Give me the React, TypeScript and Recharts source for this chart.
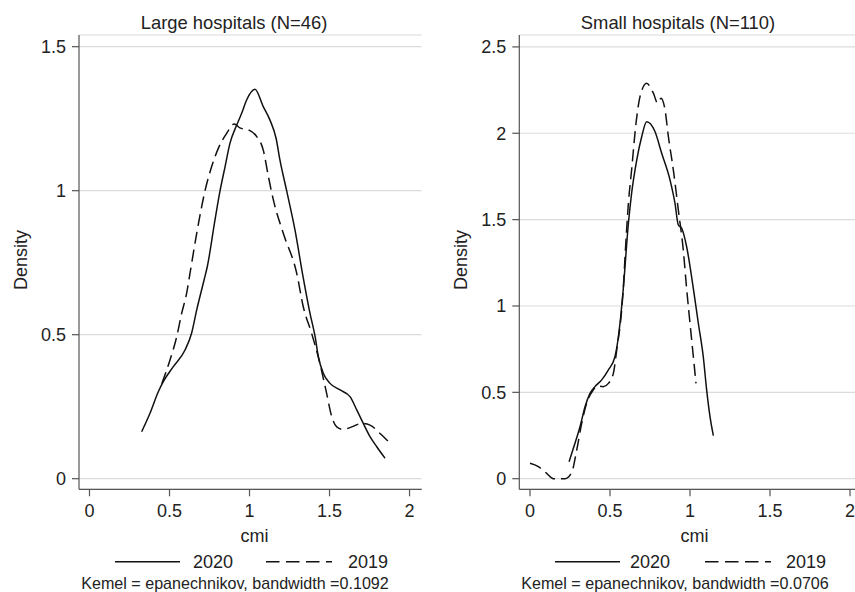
import React from "react";
import { LineChart, Line, XAxis, YAxis, CartesianGrid } from "recharts";

// ---- data ----
const xTicks = [0, 0.5, 1, 1.5, 2];
const largeYTicks = [0, 0.5, 1, 1.5];
const smallYTicks = [0, 0.5, 1, 1.5, 2, 2.5];

const large2020X = [0.326, 0.378, 0.43, 0.461, 0.524, 0.597, 0.638, 0.67, 0.716, 0.736, 0.784, 0.816, 0.847, 0.878, 0.92, 0.951, 0.982, 1.034, 1.086, 1.128, 1.166, 1.19, 1.232, 1.284, 1.335, 1.378, 1.41, 1.43, 1.461, 1.503, 1.566, 1.628, 1.67, 1.711, 1.753, 1.795, 1.847];
const large2020Y = [0.163, 0.227, 0.302, 0.337, 0.389, 0.447, 0.505, 0.586, 0.69, 0.736, 0.898, 1.0, 1.083, 1.165, 1.228, 1.269, 1.315, 1.352, 1.292, 1.245, 1.182, 1.107, 1.0, 0.864, 0.7, 0.574, 0.493, 0.424, 0.366, 0.331, 0.308, 0.285, 0.239, 0.192, 0.146, 0.111, 0.071];

const large2019X = [0.452, 0.503, 0.545, 0.576, 0.607, 0.628, 0.67, 0.722, 0.763, 0.805, 0.857, 0.905, 0.94, 0.99, 1.045, 1.086, 1.118, 1.149, 1.211, 1.295, 1.336, 1.388, 1.44, 1.482, 1.514, 1.545, 1.586, 1.639, 1.701, 1.753, 1.816, 1.889];
const large2019Y = [0.33, 0.412, 0.493, 0.574, 0.644, 0.713, 0.852, 1.0, 1.083, 1.147, 1.199, 1.232, 1.218, 1.212, 1.188, 1.141, 1.049, 0.968, 0.852, 0.713, 0.597, 0.505, 0.4, 0.296, 0.215, 0.18, 0.171, 0.18, 0.192, 0.186, 0.157, 0.117];

const small2020X = [0.244, 0.281, 0.3125, 0.344, 0.375, 0.406, 0.448, 0.49, 0.531, 0.5625, 0.583, 0.615, 0.635, 0.667, 0.698, 0.729, 0.781, 0.823, 0.875, 0.906, 0.927, 0.948, 0.979, 1.021, 1.052, 1.083, 1.104, 1.125, 1.146];
const small2020Y = [0.098, 0.205, 0.301, 0.417, 0.494, 0.533, 0.572, 0.63, 0.706, 0.9, 1.1, 1.479, 1.652, 1.845, 1.98, 2.067, 2.01, 1.884, 1.73, 1.595, 1.469, 1.45, 1.343, 1.1, 0.9, 0.706, 0.514, 0.359, 0.249];

const small2019X = [0, 0.052, 0.104, 0.146, 0.219, 0.26, 0.292, 0.323, 0.354, 0.396, 0.417, 0.458, 0.49, 0.521, 0.542, 0.573, 0.583, 0.594, 0.615, 0.635, 0.6625, 0.6875, 0.729, 0.771, 0.798, 0.819, 0.844, 0.865, 0.896, 0.927, 0.958, 0.979, 1.0, 1.021, 1.0375];
const small2019Y = [0.089, 0.07, 0.031, 0.0, 0.0, 0.035, 0.166, 0.32, 0.437, 0.514, 0.537, 0.533, 0.552, 0.61, 0.745, 0.977, 1.1, 1.286, 1.595, 1.787, 2.058, 2.212, 2.289, 2.232, 2.174, 2.203, 2.135, 1.98, 1.787, 1.556, 1.324, 1.1, 0.9, 0.706, 0.552];

const seriesNames = ["2020", "2019"];
const titles = ["Large hospitals (N=46)", "Small hospitals (N=110)"];
const notes = ["Kemel = epanechnikov, bandwidth =0.1092", "Kemel = epanechnikov, bandwidth =0.0706"];
const xLabel = "cmi";
const yLabel = "Density";

const zip = (xs: number[], ys: number[]) => xs.map((x, i) => ({ x, y: ys[i] }));

const FONT = '"Liberation Sans", Arial, Helvetica, sans-serif';
const AXIS = "#555";
const TEXT = "#222";
const GRID = "#dcdcdc";

type PanelProps = {
  left: number;
  width: number;
  yAxisWidth: number;
  marginRight: number;
  xDomain: [number, number];
  yDomain: [number, number];
  yTicks: number[];
  solid: { x: number; y: number }[];
  dashed: { x: number; y: number }[];
};

function Panel(p: PanelProps) {
  const tickStyle = { fontSize: 18, fill: TEXT, fontFamily: FONT };
  return (
    <div style={{ position: "absolute", left: p.left, top: 0 }}>
      <LineChart
        width={p.width}
        height={592}
        margin={{ top: 35, right: p.marginRight, bottom: 0, left: 0 }}
      >
        <CartesianGrid horizontal vertical={false} stroke={GRID} strokeWidth={1.2} />
        <XAxis
          type="number"
          dataKey="x"
          domain={p.xDomain}
          allowDataOverflow
          ticks={xTicks}
          height={102.7}
          tickSize={7}
          tickMargin={8}
          axisLine={{ stroke: AXIS, strokeWidth: 1.2 }}
          tickLine={{ stroke: AXIS, strokeWidth: 1.2 }}
          tick={tickStyle}
          interval={0}
        />
        <YAxis
          type="number"
          dataKey="y"
          domain={p.yDomain}
          allowDataOverflow
          ticks={p.yTicks}
          width={p.yAxisWidth}
          tickSize={7}
          tickMargin={6}
          axisLine={{ stroke: AXIS, strokeWidth: 1.2 }}
          tickLine={{ stroke: AXIS, strokeWidth: 1.2 }}
          tick={tickStyle}
          interval={0}
        />
        <Line
          data={p.solid}
          dataKey="y"
          type="monotone"
          stroke="#111"
          strokeWidth={1.5}
          dot={false}
          activeDot={false}
          isAnimationActive={false}
        />
        <Line
          data={p.dashed}
          dataKey="y"
          type="monotone"
          stroke="#111"
          strokeWidth={1.5}
          strokeDasharray="12 6"
          dot={false}
          activeDot={false}
          isAnimationActive={false}
        />
      </LineChart>
    </div>
  );
}

function Annotations() {
  const t = { fontFamily: FONT, fill: TEXT } as const;
  return (
    <svg
      width={855}
      height={592}
      style={{ position: "absolute", left: 0, top: 0, pointerEvents: "none" }}
    >
      {/* titles */}
      <text x={234} y={29} textAnchor="middle" fontSize={18.4} {...t}>{titles[0]}</text>
      <text x={678} y={29} textAnchor="middle" fontSize={18.4} {...t}>{titles[1]}</text>
      {/* y labels */}
      <text x={27} y={260} textAnchor="middle" fontSize={18} transform="rotate(-90 27 260)" {...t}>{yLabel}</text>
      <text x={467} y={260} textAnchor="middle" fontSize={18} transform="rotate(-90 467 260)" {...t}>{yLabel}</text>
      {/* x labels */}
      <text x={254.5} y={542} textAnchor="middle" fontSize={18} {...t}>{xLabel}</text>
      <text x={694.5} y={542} textAnchor="middle" fontSize={18} {...t}>{xLabel}</text>
      {/* legends */}
      <line x1={115} x2={180} y1={561.7} y2={561.7} stroke="#111" strokeWidth={1.5} />
      <text x={193} y={567.5} fontSize={18} {...t}>{seriesNames[0]}</text>
      <line x1={266} x2={332} y1={561.7} y2={561.7} stroke="#111" strokeWidth={1.5} strokeDasharray="13.5 6.5" />
      <text x={348} y={567.5} fontSize={18} {...t}>{seriesNames[1]}</text>

      <line x1={555} x2={620} y1={561.7} y2={561.7} stroke="#111" strokeWidth={1.5} />
      <text x={630} y={567.5} fontSize={18} {...t}>{seriesNames[0]}</text>
      <line x1={705} x2={771} y1={561.7} y2={561.7} stroke="#111" strokeWidth={1.5} strokeDasharray="13.5 6.5" />
      <text x={786} y={567.5} fontSize={18} {...t}>{seriesNames[1]}</text>
      {/* notes */}
      <text x={235} y={589} textAnchor="middle" fontSize={16.1} {...t}>{notes[0]}</text>
      <text x={675} y={589} textAnchor="middle" fontSize={16.1} {...t}>{notes[1]}</text>
    </svg>
  );
}

export default function App() {
  return (
    <div
      style={{
        position: "absolute",
        left: 0,
        top: 0,
        width: 855,
        height: 592,
        overflow: "hidden",
        background: "#fff",
      }}
    >
      <Panel
        left={0}
        width={430}
        yAxisWidth={79}
        marginRight={8.3}
        xDomain={[-0.0656, 2.076]}
        yDomain={[-0.0368, 1.5406]}
        yTicks={largeYTicks}
        solid={zip(large2020X, large2020Y)}
        dashed={zip(large2019X, large2019Y)}
      />
      <Panel
        left={430}
        width={440}
        yAxisWidth={89.3}
        marginRight={0}
        xDomain={[-0.0669, 2.125]}
        yDomain={[-0.0614, 2.569]}
        yTicks={smallYTicks}
        solid={zip(small2020X, small2020Y)}
        dashed={zip(small2019X, small2019Y)}
      />
      <Annotations />
    </div>
  );
}
